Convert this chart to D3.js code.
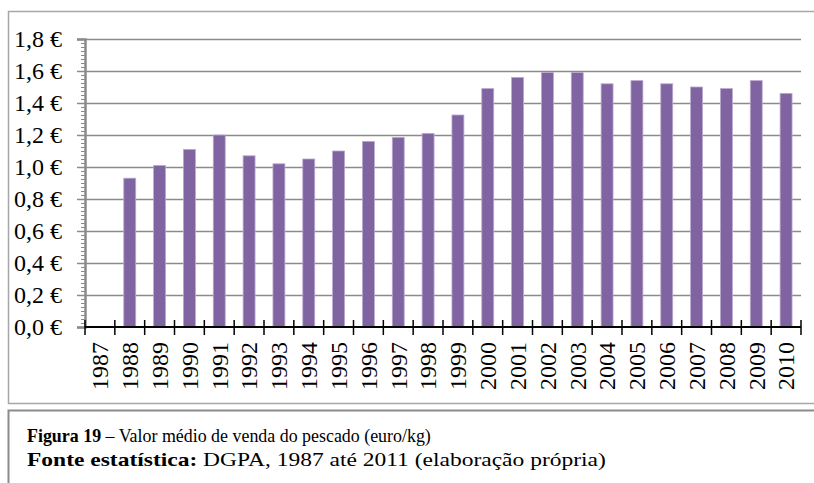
<!DOCTYPE html>
<html>
<head>
<meta charset="utf-8">
<script src="https://cdn.jsdelivr.net/npm/d3@7"></script>
<style>
  body { margin: 0; background: #fff; }
  svg { display: block; }
</style>
</head>
<body>
<svg width="814" height="483"></svg>
<script>
const years = ["1987", "1988", "1989", "1990", "1991", "1992", "1993", "1994",
  "1995", "1996", "1997", "1998", "1999", "2000", "2001", "2002", "2003",
  "2004", "2005", "2006", "2007", "2008", "2009", "2010"];

// euro/kg, no value for 1987
const prices = [null, 0.93, 1.01, 1.11, 1.20, 1.07, 1.02, 1.05, 1.10, 1.16,
  1.185, 1.21, 1.325, 1.49, 1.56, 1.59, 1.59, 1.52, 1.54, 1.52, 1.50, 1.49,
  1.54, 1.46];

const yTicks = [0, 0.2, 0.4, 0.6, 0.8, 1.0, 1.2, 1.4, 1.6, 1.8];

const captionTitle = ["Figura 19", " – Valor médio de venda do pescado (euro/kg)"];
const captionSource = ["Fonte estatística:", " DGPA, 1987 até 2011 (elaboração própria)"];

const svg = d3.select("svg");
const serif = "'Liberation Serif', 'Times New Roman', serif";

/* -----------------------------
   Frames
----------------------------- */

svg.append("rect")
  .attr("x", 8.5).attr("y", 11.5)
  .attr("width", 820).attr("height", 392)
  .attr("fill", "#fff")
  .attr("stroke", "#a6a6a6")
  .attr("stroke-width", 1.5);

svg.append("rect")
  .attr("x", 8.5).attr("y", 410.5)
  .attr("width", 820).attr("height", 100)
  .attr("fill", "#fff")
  .attr("stroke", "#8c8c8c")
  .attr("stroke-width", 2);

/* -----------------------------
   Scales
----------------------------- */

const plotLeft = 85, plotRight = 801, plotTop = 39, plotBottom = 327;

const x = d3.scaleBand()
  .domain(years)
  .range([plotLeft, plotRight])
  .paddingInner(0.6)
  .paddingOuter(0.3);

const y = d3.scaleLinear()
  .domain([0, 1.8])
  .range([plotBottom, plotTop]);

const euro = d => d3.format(".1f")(d).replace(".", ",") + " €";

/* -----------------------------
   Gridlines + y axis
----------------------------- */

const grid = svg.append("g")
  .attr("transform", `translate(${plotLeft},0)`)
  .call(d3.axisLeft(y).tickValues(yTicks.slice(1)).tickSize(-(plotRight - plotLeft)).tickFormat(""));
grid.select(".domain").remove();
grid.selectAll("line").attr("stroke", "#8a8a8a").attr("stroke-width", 1.5);

const minor = d3.range(0, 1.8001, 0.025);
const yMinor = svg.append("g")
  .attr("transform", `translate(${plotLeft},0)`)
  .call(d3.axisLeft(y).tickValues(minor).tickSize(4).tickFormat(""));
yMinor.select(".domain").remove();
yMinor.selectAll("line").attr("stroke", "#8a8a8a").attr("stroke-width", 1);

const yAxis = svg.append("g")
  .attr("transform", `translate(${plotLeft},0)`)
  .call(d3.axisLeft(y).tickValues(yTicks).tickSize(8).tickPadding(15).tickFormat(euro));
yAxis.select(".domain").attr("stroke", "#8a8a8a").attr("stroke-width", 2.5);
yAxis.selectAll("line").attr("stroke", "#8a8a8a").attr("stroke-width", 1.5);
yAxis.selectAll("text")
  .attr("fill", "#000")
  .style("font-family", serif)
  .style("font-size", "24px");

/* -----------------------------
   Bars
----------------------------- */

svg.append("g")
  .selectAll("rect")
  .data(years.map((yr, i) => ({ yr, v: prices[i] })).filter(d => d.v != null))
  .enter()
  .append("rect")
  .attr("x", d => x(d.yr))
  .attr("y", d => y(d.v))
  .attr("width", x.bandwidth())
  .attr("height", d => y(0) - y(d.v))
  .attr("fill", "#8064a2")
  .attr("stroke", "#b9a9cf")
  .attr("stroke-width", 0.8);

/* -----------------------------
   X axis (ticks between categories)
----------------------------- */

const step = x.step();
const xAxis = svg.append("g");

xAxis.append("line")
  .attr("x1", plotLeft).attr("x2", plotRight)
  .attr("y1", plotBottom).attr("y2", plotBottom)
  .attr("stroke", "#000")
  .attr("stroke-width", 2);

const bounds = years.map(yr => x(yr) - step * 0.3).concat([plotRight]);

xAxis.selectAll(".tick")
  .data(bounds)
  .enter()
  .append("line")
  .attr("x1", d => d).attr("x2", d => d)
  .attr("y1", plotBottom - 7).attr("y2", plotBottom + 8)
  .attr("stroke", "#000")
  .attr("stroke-width", 1.5);

xAxis.selectAll(".lbl")
  .data(years)
  .enter()
  .append("text")
  .attr("transform", d => `translate(${x(d) + x.bandwidth() / 2},342) rotate(-90)`)
  .attr("dy", "0.35em")
  .attr("text-anchor", "end")
  .style("font-family", serif)
  .style("font-size", "24px")
  .text(d => d);

/* -----------------------------
   Caption
----------------------------- */

const cap = svg.append("g")
  .style("font-family", serif)
  .style("font-size", "19px");

// the two caption lines are set at different widths in the source
const capWidths = [404, 579];

[captionTitle, captionSource].forEach((line, i) => {
  const t = cap.append("text");
  t.append("tspan").attr("font-weight", "bold").text(line[0]);
  t.append("tspan").text(line[1]);
  const w = t.node().getComputedTextLength();
  t.attr("transform", `translate(27,${442 + i * 24}) scale(${capWidths[i] / w},1)`);
});
</script>
</body>
</html>
